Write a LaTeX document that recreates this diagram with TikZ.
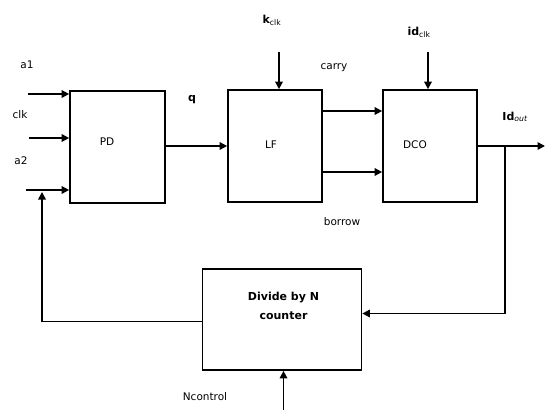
\documentclass[tikz,border=0pt]{standalone}
\usepackage{fontspec}
\setmainfont{DejaVu Sans}
\usetikzlibrary{arrows.meta}
\begin{document}
\begin{tikzpicture}[x=1pt,y=-1pt,
  blk/.style={draw,line width=1.7pt,inner sep=0pt},
  lbl/.style={font=\fontsize{10.5}{12}\selectfont,inner sep=0pt},
  blbl/.style={font=\fontsize{11}{13}\selectfont\bfseries,inner sep=0pt},
  wire/.style={line width=1.6pt},
  arr/.style={wire,-{Triangle[length=7.5pt,width=7.5pt]}}]
\useasboundingbox (0,0) rectangle (546,410);
% blocks
\node[blk,minimum width=95pt,minimum height=112pt] (pd) at (117.5,147) {};
\node[blk,minimum width=94pt,minimum height=112pt] (lf) at (275,146) {};
\node[blk,minimum width=94pt,minimum height=112pt] (dco) at (430,146) {};
\node[blk,minimum width=159pt,minimum height=101pt] (div) at (282,319.5) {};
% texts
\node[lbl] (tpd) at (107,142) {PD};
\node[lbl] (tlf) at (271,145) {LF};
\node[lbl] (tdco) at (415,145) {DCO};
\node[blbl,align=center] (tdiv) at (283.5,305.5) {Divide by N\\[6pt]counter};
\node[lbl] (la1) at (27,65) {a1};
\node[lbl] (lclk) at (20,115) {clk};
\node[lbl] (la2) at (21,161) {a2};
\node[blbl] (lq) at (192,100) {q};
\node[blbl] (lk) at (272,20) {k\textsubscript{\mdseries clk}};
\node[blbl] (lid) at (419,32) {id\textsubscript{\mdseries clk}};
\node[blbl] (lidout) at (515,117) {Id\textsubscript{\mdseries\itshape out}};
\node[lbl] (lcarry) at (334,68) {carry};
\node[lbl] (lborrow) at (342,222) {borrow};
\node[lbl] (lnc) at (205,397) {Ncontrol};
% coordinates
\coordinate (ia1) at (28,94);
\coordinate (iclk) at (29,138);
\coordinate (ia2) at (26,190);
\coordinate (kin) at (279,52);
\coordinate (idin) at (428,52);
\coordinate (outend) at (545,146);
\coordinate (junc) at (505,146);
\coordinate (fbr) at (505,313.5);
\coordinate (fbl) at (42,321.5);
\coordinate (fbtip) at (42,192);
\coordinate (ncin) at (283.5,410);
% connectors
\draw[arr] (ia1) -- (ia1 -| pd.west);
\draw[arr] (iclk) -- (iclk -| pd.west);
\draw[arr] (ia2) -- (ia2 -| pd.west);
\draw[arr] (pd.east |- 0,146) -- (lf.west |- 0,146);
\draw[arr] (kin) -- (kin |- lf.north);
\draw[arr] (idin) -- (idin |- dco.north);
\draw[arr] (lf.east |- 0,111) -- (dco.west |- 0,111);
\draw[arr] (lf.east |- 0,172) -- (dco.west |- 0,172);
\draw[arr] (dco.east |- outend) -- (outend);
\draw[arr] (junc) -- (fbr) -- (fbr -| div.east);
\draw[arr] (div.west |- fbl) -- (fbl) -- (fbtip);
\draw[arr] (ncin) -- (ncin |- div.south);
\end{tikzpicture}
\end{document}
